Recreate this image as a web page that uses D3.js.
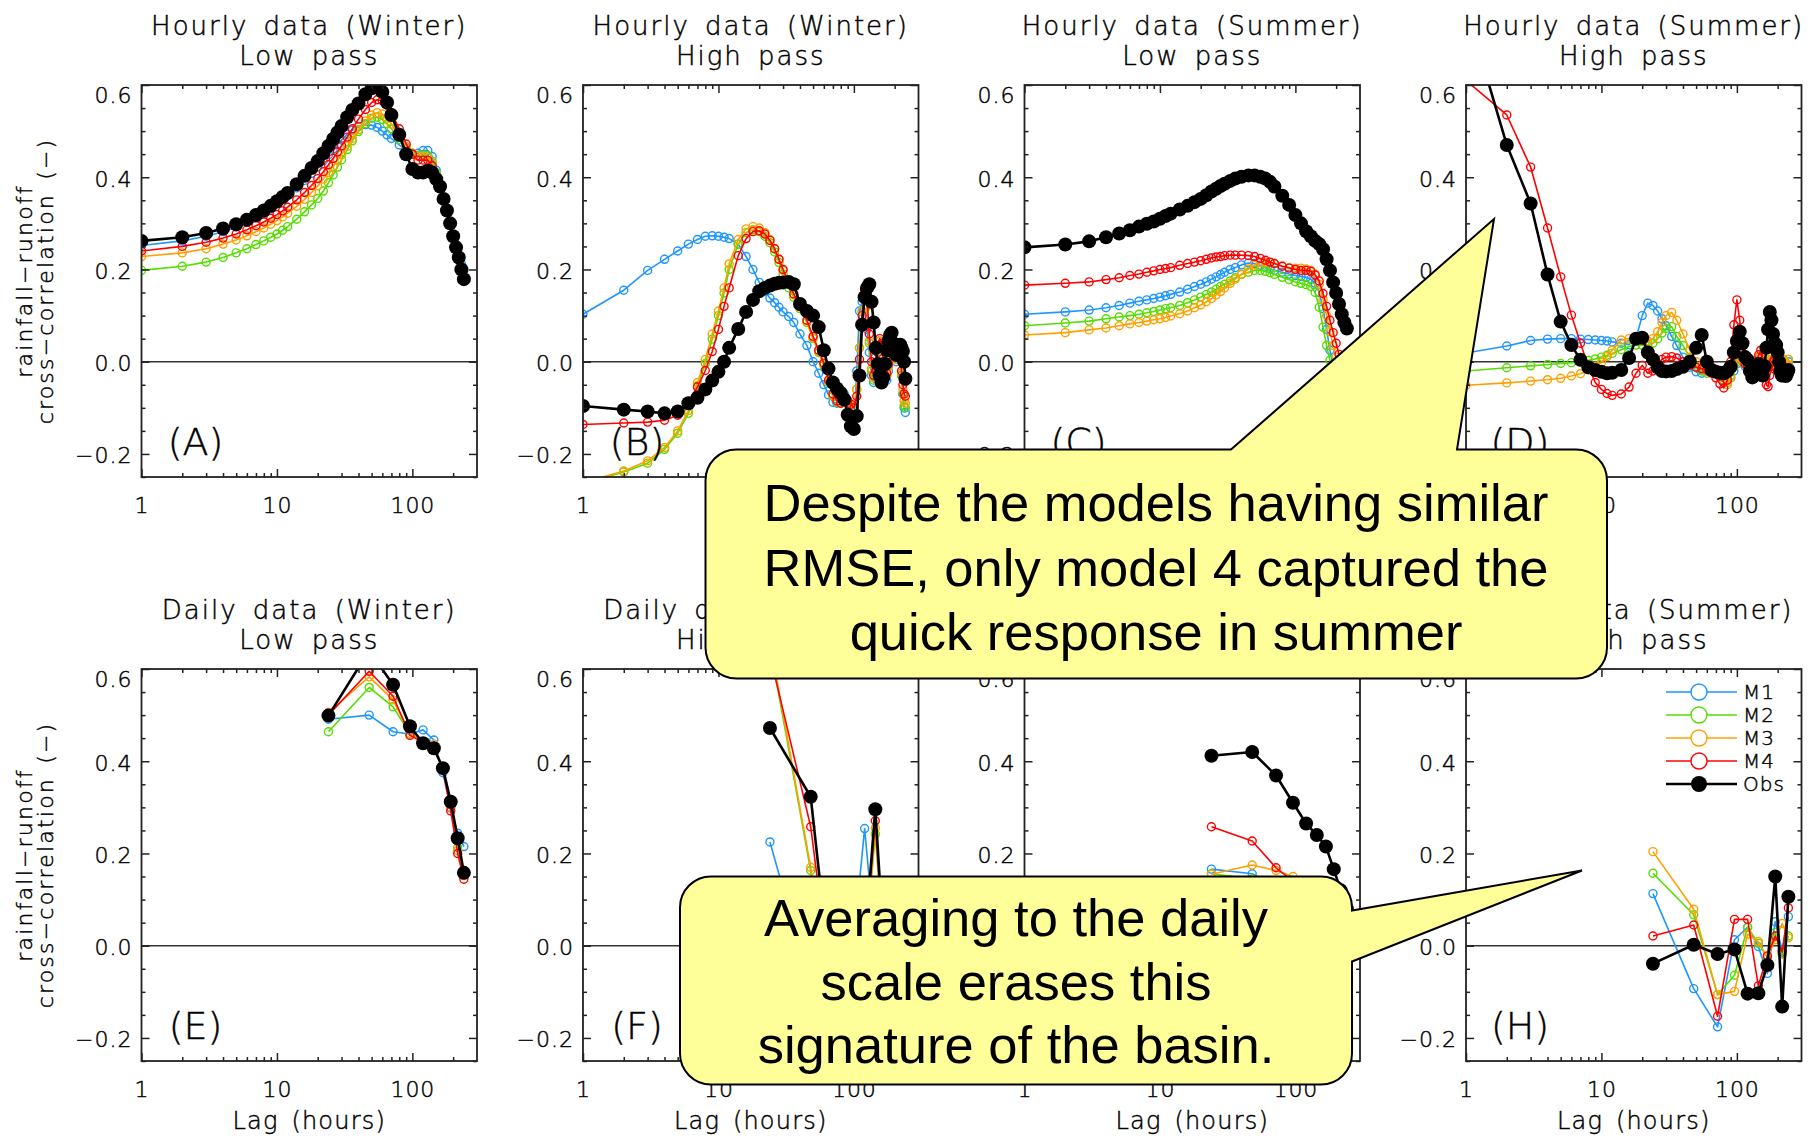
<!DOCTYPE html>
<html>
<head>
<meta charset="utf-8">
<script src="https://cdn.jsdelivr.net/npm/d3@7"></script>
<style>
  html, body { margin: 0; padding: 0; background: #fff; }
  svg { display: block; }
  .plotText { font-family: "DejaVu Sans", "Liberation Sans", sans-serif; font-weight: 200; fill: #000; stroke: #000; stroke-width: 0.45px; }
  .calloutText { font-family: "Liberation Sans", Arial, sans-serif; fill: #000; }
</style>
</head>
<body>
<svg id="chart" width="1816" height="1138"></svg>
<script>
// ---------------- data ----------------
const seriesNames = ["M1", "M2", "M3", "M4", "Obs"];
const yTickValues = [-0.2, 0.0, 0.2, 0.4, 0.6];
const xTickValues = [1, 10, 100];
const xMinorTicks = [2, 3, 4, 5, 6, 7, 8, 9, 20, 30, 40, 50, 60, 70, 80, 90, 200];
const yMinorTicks = [-0.25, -0.15, -0.1, -0.05, 0.05, 0.1, 0.15, 0.25, 0.3, 0.35, 0.45, 0.5, 0.55];

const panelTitles = ["Hourly data (Winter)", "Hourly data (Winter)", "Hourly data (Summer)", "Hourly data (Summer)",
                     "Daily data (Winter)", "Daily data (Winter)", "Daily data (Summer)", "Daily data (Summer)"];
const panelSubtitles = ["Low pass", "High pass", "Low pass", "High pass", "Low pass", "High pass", "Low pass", "High pass"];
const panelTags = ["(A)", "(B)", "(C)", "(D)", "(E)", "(F)", "(G)", "(H)"];

// lags (hours) for the low-pass hourly panels
const lagsLow = [1,2,3,4,5,6,7,8,9,10,11,12,14,16,18,20,22,24,26,28,30,33,36,40,45,50,55,60,65,70,80,90,100,
                 110,120,130,140,150,160,170,180,190,200,210,220,230,240];
// lags (hours) for the high-pass hourly panels
const lagsHigh = [1,2,3,4,5,6,7,8,9,10,11,12,14,16,18,20,22,24,26,28,30,33,36,40,45,50,55,60,65,70,75,80,85,90,95,
                  100,105,110,115,120,125,130,135,140,145,150,155,160,165,170,175,180,185,190,195,200,205,210,215,
                  220,225,230,235,240];
// lags (hours) for the daily panels
const lagsDaily = [24, 48, 72, 96, 120, 144, 168, 192, 216, 240];

// (A) hourly, winter, low pass
const hwLowM1 = [.252,.262,.272,.282,.292,.302,.312,.322,.332,.342,.351,.360,.377,.393,.408,.422,.436,.449,.461,.472,.481,
                 .493,.502,.510,.514,.513,.508,.500,.492,.484,.470,.458,.450,.452,.458,.458,.445,.415,.385,.355,.330,.302,.275,.250,.230,.212,.198];
const hwLowM2 = [.198,.207,.216,.226,.236,.245,.254,.262,.270,.277,.285,.293,.309,.325,.340,.354,.370,.388,.405,.422,.438,
                 .460,.479,.499,.516,.528,.530,.525,.516,.505,.482,.463,.452,.447,.448,.447,.435,.410,.382,.353,.328,.300,.272,.248,.226,.200,.179];
const hwLowM3 = [.228,.236,.245,.255,.264,.273,.282,.290,.298,.306,.314,.322,.337,.352,.367,.381,.396,.410,.424,.437,.449,
                 .467,.484,.503,.522,.535,.540,.537,.528,.515,.488,.466,.452,.445,.445,.443,.430,.405,.380,.352,.327,.300,.272,.248,.226,.200,.179];
const hwLowM4 = [.240,.250,.259,.268,.277,.286,.295,.303,.311,.319,.327,.335,.351,.367,.382,.397,.412,.427,.441,.455,.468,
                 .487,.505,.526,.547,.562,.568,.566,.556,.540,.505,.472,.450,.437,.437,.437,.425,.402,.378,.351,.326,.299,.271,.247,.225,.200,.178];
const hwLowObs = [.262,.270,.279,.289,.298,.308,.318,.328,.338,.348,.357,.366,.385,.403,.420,.435,.452,.468,.483,.497,.511,
                  .530,.546,.560,.580,.593,.595,.585,.562,.535,.492,.450,.418,.410,.410,.414,.410,.396,.380,.353,.328,.300,.272,.248,.226,.200,.179];

// (B) hourly, winter, high pass
const hwHighM1 = [.103,.155,.198,.222,.240,.255,.265,.272,.273,.272,.270,.267,.255,.228,.200,.172,.152,.138,.128,.118,.108,
                  .098,.085,.060,.035,0,-.025,-.050,-.072,-.088,-.090,-.080,-.070,-.085,-.120,-.140,-.020,.110,.130,.115,
                  .070,.020,-.030,-.045,-.030,0,.030,.035,0,-.030,-.040,-.020,.010,.035,.030,.010,0,.010,.020,.010,-.030,-.070,-.100,-.110];
const hwHighM2 = [-.265,-.239,-.220,-.190,-.155,-.112,-.052,-.004,.049,.100,.149,.200,.255,.280,.286,.282,.272,.258,.238,.215,.190,
                  .160,.140,.115,.085,.050,.020,-.008,-.045,-.075,-.088,-.090,-.085,-.088,-.095,-.100,-.060,.030,.110,.150,
                  .120,.040,-.020,-.040,-.020,.020,.045,.035,-.005,-.035,-.030,-.010,.020,.040,.035,.015,.005,.015,.020,.010,-.030,-.070,-.095,-.100];
const hwHighM3 = [-.262,-.237,-.215,-.186,-.150,-.106,-.045,.005,.060,.110,.160,.212,.265,.288,.293,.290,.280,.265,.245,.222,.198,
                  .168,.145,.118,.088,.052,.022,-.006,-.043,-.073,-.086,-.088,-.083,-.086,-.093,-.098,-.060,.030,.110,.150,
                  .120,.045,-.015,-.035,-.020,.020,.045,.035,-.005,-.035,-.030,-.010,.020,.040,.035,.015,.005,.015,.020,.010,-.025,-.060,-.085,-.090];
const hwHighM4 = [-.136,-.133,-.131,-.127,-.116,-.086,-.055,-.019,.022,.070,.120,.160,.230,.267,.282,.284,.277,.263,.245,.222,.200,
                  .170,.147,.120,.090,.055,.025,-.003,-.040,-.070,-.085,-.090,-.085,-.085,-.092,-.100,-.075,.005,.100,.155,
                  .135,.060,0,-.030,-.020,.020,.050,.040,0,-.030,-.025,-.005,.020,.040,.035,.020,.010,.015,.020,.010,-.020,-.050,-.070,-.075];
const hwHighObs = [-.096,-.104,-.108,-.112,-.108,-.090,-.078,-.060,-.041,-.022,0,.030,.071,.108,.134,.153,.160,.165,.169,.171,.172,
                   .173,.168,.125,.110,.100,.075,.025,-.015,-.045,-.058,-.068,-.082,-.115,-.140,-.146,-.118,-.030,.080,.140,
                   .160,.168,.130,.085,.030,-.005,-.030,-.045,-.035,-.005,.025,.045,.058,.063,.040,.020,.015,.025,.035,.037,.030,.022,0,-.037];

// (C) hourly, summer, low pass
const hsLowM1 = [.103,.108,.112,.117,.122,.127,.131,.134,.137,.140,.143,.146,.151,.157,.163,.168,.173,.179,.184,.189,.194,
                 .200,.204,.210,.214,.213,.209,.205,.201,.198,.194,.190,.187,.185,.183,.179,.170,.150,.115,.070,.025,-.010,-.035,-.050,-.060,-.070,-.075];
const hsLowM2 = [.078,.084,.088,.093,.097,.100,.103,.106,.109,.112,.115,.117,.122,.128,.134,.140,.146,.151,.157,.163,.168,
                 .175,.182,.189,.194,.198,.198,.196,.193,.189,.183,.178,.173,.170,.167,.163,.150,.118,.075,.035,.003,-.020,-.037,-.050,-.060,-.070,-.075];
const hsLowM3 = [.058,.063,.069,.073,.078,.082,.085,.088,.091,.093,.096,.099,.104,.110,.117,.123,.130,.137,.145,.152,.160,
                 .170,.179,.190,.201,.210,.215,.216,.215,.213,.207,.204,.203,.203,.201,.198,.190,.168,.135,.100,.065,.035,.010,-.010,-.025,-.040,-.050];
const hsLowM4 = [.166,.170,.173,.178,.182,.187,.190,.194,.197,.200,.202,.204,.209,.213,.216,.219,.222,.225,.227,.228,.230,
                 .231,.231,.231,.230,.228,.224,.220,.216,.213,.207,.203,.200,.198,.198,.196,.188,.175,.148,.120,.090,.063,.040,.016,-.005,-.025,-.040];
const hsLowObs = [.248,.254,.261,.270,.278,.285,.293,.299,.304,.310,.316,.321,.330,.338,.346,.353,.361,.369,.375,.381,.386,
                  .392,.397,.401,.404,.404,.401,.397,.390,.380,.360,.340,.318,.300,.283,.272,.262,.255,.244,.222,.198,.172,.149,.125,.103,.085,.072];

// (D) hourly, summer, high pass
const hsHighM1 = [.019,.034,.046,.049,.050,.050,.049,.048,.047,.046,.045,.043,.040,.037,.050,.100,.127,.122,.110,.093,.078,
                  .055,.035,.010,-.012,-.022,-.025,-.020,-.015,-.020,-.028,-.035,-.040,-.035,-.020,-.005,.005,0,-.010,-.020,
                  -.025,-.020,-.010,0,.005,0,-.010,-.020,-.015,0,.010,.005,-.005,-.010,-.005,0,-.010,-.015,-.010,0,-.005,-.010,-.005,0];
const hsHighM2 = [-.020,-.013,-.009,-.006,-.004,-.002,0,.003,.006,.010,.014,.018,.026,.033,.036,.036,.035,.040,.050,.062,.072,
                  .076,.055,.035,.010,-.010,-.020,-.025,-.020,-.025,-.030,-.040,-.045,-.030,-.010,0,.010,.005,-.005,-.015,
                  -.020,-.015,-.005,.005,.010,.005,-.005,-.015,-.010,.005,.010,.005,0,-.010,-.005,.005,-.005,-.010,-.005,.005,0,-.010,-.005,.005];
const hsHighM3 = [-.051,-.046,-.042,-.039,-.036,-.031,-.026,-.018,-.010,-.002,.011,.025,.047,.050,.048,.045,.045,.050,.065,.085,.100,
                  .107,.090,.060,.025,0,-.015,-.020,-.020,-.025,-.030,-.045,-.050,-.035,-.010,.005,.010,.005,-.005,-.015,
                  -.020,-.015,-.005,.005,.010,.005,-.005,-.015,-.010,.005,.010,.005,0,-.010,-.005,.005,-.005,-.010,-.005,.005,0,-.010,-.005,.005];
const hsHighM4 = [.610,.535,.422,.290,.184,.101,.040,-.010,-.045,-.060,-.069,-.073,-.070,-.055,-.025,-.008,-.025,-.020,-.005,.005,.010,
                  .011,.008,0,-.008,-.012,-.015,-.018,-.025,-.035,-.048,-.057,-.040,0,.080,.134,.090,.020,-.005,-.010,
                  -.015,-.020,-.010,0,.015,.025,0,-.030,-.050,-.054,-.030,-.010,0,.005,-.010,-.020,-.025,-.030,-.020,-.010,-.020,-.030,-.025,-.020];
const hsHighObs = [.770,.470,.343,.189,.087,.036,.004,-.012,-.018,-.022,-.025,-.024,-.018,.008,.050,.052,.020,.005,-.012,-.020,-.021,
                   -.020,-.016,-.011,0,.030,.058,0,-.018,-.022,-.024,-.025,-.020,-.011,.020,.045,.065,.040,.010,.004,
                   -.020,-.034,-.030,-.020,-.005,-.020,-.030,-.010,.030,.070,.108,.090,.060,.040,.036,.020,0,-.020,-.030,-.020,-.025,-.031,-.025,-.018];

// (E) daily, winter, low pass
const dwLowM1 = [.491,.500,.464,.459,.468,.446,.375,.298,.244,.215];
const dwLowM2 = [.464,.560,.518,.460,.441,.429,.383,.306,.213,.163];
const dwLowM3 = [.506,.583,.533,.459,.441,.437,.383,.300,.206,.152];
const dwLowM4 = [.500,.595,.541,.456,.441,.431,.383,.292,.200,.144];
const dwLowObs = [.499,.640,.566,.476,.439,.428,.385,.312,.233,.158];

// (F) daily, winter, high pass
const dwHighM1 = [.225,-.090,-.120,-.040,.254,0,-.040,-.020,.020,-.020];
const dwHighM2 = [.650,.163,-.160,-.080,-.020,.242,-.030,0,-.020,0];
const dwHighM3 = [.660,.170,-.160,-.080,-.020,.255,-.030,0,-.020,0];
const dwHighM4 = [.630,.258,-.150,-.070,-.010,.271,-.030,0,-.020,0];
const dwHighObs = [.472,.323,-.150,-.060,0,.296,-.020,.020,-.030,0];

// (G) daily, summer, low pass
const dsLowM1 = [.166,.156,.130,.120,.100,.085,.070,.050,.030,.010];
const dsLowM2 = [.156,.145,.120,.110,.095,.080,.065,.045,.025,.005];
const dsLowM3 = [.155,.175,.163,.150,.140,.125,.105,.085,.065,.045];
const dsLowM4 = [.258,.227,.169,.140,.120,.100,.080,.060,.040,.020];
const dsLowObs = [.412,.420,.369,.310,.265,.240,.215,.166,.120,.080];

// (H) daily, summer, high pass
const dsHighM1 = [.113,-.093,-.176,.013,.040,-.002,-.060,.052,-.010,.063];
const dsHighM2 = [.157,.067,-.106,-.064,.040,.005,-.025,.029,-.018,.021];
const dsHighM3 = [.204,.079,-.106,-.099,.025,.009,-.025,.013,.048,.017];
const dsHighM4 = [.021,.045,-.153,.057,.057,-.087,-.022,.021,-.014,.082];
const dsHighObs = [-.039,.002,-.018,-.008,-.104,-.103,-.042,.150,-.132,.106];

const calloutUpperLines = ["Despite the models having similar", "RMSE, only model 4 captured the", "quick response in summer"];
const calloutLowerLines = ["Averaging to the daily", "scale erases this", "signature of the basin."];

// ---------------- layout & style ----------------
const seriesColors = ["#1e96ff", "#55dd00", "#ffa000", "#ff0000", "#000000"];
const colLefts = [141.5, 583, 1024.5, 1466];
const rowTops = [85, 669];
const plotW = 335.5, plotH = 392;

const panels = [
  { lags: lagsLow,   series: [hwLowM1, hwLowM2, hwLowM3, hwLowM4, hwLowObs] },
  { lags: lagsHigh,  series: [hwHighM1, hwHighM2, hwHighM3, hwHighM4, hwHighObs] },
  { lags: lagsLow,   series: [hsLowM1, hsLowM2, hsLowM3, hsLowM4, hsLowObs] },
  { lags: lagsHigh,  series: [hsHighM1, hsHighM2, hsHighM3, hsHighM4, hsHighObs] },
  { lags: lagsDaily, series: [dwLowM1, dwLowM2, dwLowM3, dwLowM4, dwLowObs] },
  { lags: lagsDaily, series: [dwHighM1, dwHighM2, dwHighM3, dwHighM4, dwHighObs] },
  { lags: lagsDaily, series: [dsLowM1, dsLowM2, dsLowM3, dsLowM4, dsLowObs] },
  { lags: lagsDaily, series: [dsHighM1, dsHighM2, dsHighM3, dsHighM4, dsHighObs] }
];

const svg = d3.select("#chart");
const yFmt = d => d3.format(".1f")(d);

panels.forEach((p, i) => {
  const row = Math.floor(i / 4), col = i % 4;
  const left = colLefts[col], top = rowTops[row];
  const x = d3.scaleLog().domain([1, 300]).range([left, left + plotW]);
  const y = d3.scaleLinear().domain([-0.25, 0.6]).range([top + plotH, top]);
  const g = svg.append("g").attr("class", "panel");

  // clip region for the data
  const clipId = "clip" + i;
  g.append("clipPath").attr("id", clipId)
    .append("rect").attr("x", left).attr("y", top).attr("width", plotW).attr("height", plotH);

  // zero reference line
  g.append("line")
    .attr("x1", left).attr("x2", left + plotW)
    .attr("y1", y(0)).attr("y2", y(0))
    .attr("stroke", "#333").attr("stroke-width", 1.5);

  // series: models first, observations on top
  const data = g.append("g").attr("clip-path", `url(#${clipId})`);
  p.series.forEach((vals, s) => {
    const pts = p.lags.map((lag, k) => ({ lag, v: vals[k] }));
    const isObs = s === 4;
    const line = d3.line().x(d => x(d.lag)).y(d => y(d.v));
    data.append("path").datum(pts)
      .attr("d", line)
      .attr("fill", "none")
      .attr("stroke", seriesColors[s])
      .attr("stroke-width", isObs ? 2.6 : 1.6)
      .attr("stroke-linejoin", "round");
    data.append("g").selectAll("circle").data(pts).join("circle")
      .attr("cx", d => x(d.lag)).attr("cy", d => y(d.v))
      .attr("r", isObs ? 7 : 4)
      .attr("fill", isObs ? "#000" : "none")
      .attr("stroke", seriesColors[s])
      .attr("stroke-width", isObs ? 0 : 1.4);
  });

  // frame
  g.append("rect")
    .attr("x", left).attr("y", top).attr("width", plotW).attr("height", plotH)
    .attr("fill", "none").attr("stroke", "#222").attr("stroke-width", 1.8);

  // axes: inward ticks on all four sides
  const styleAxis = sel => {
    sel.select(".domain").remove();
    sel.selectAll(".tick line").attr("stroke", "#222").attr("stroke-width", 1.5);
  };
  const yLeft = g.append("g").attr("transform", `translate(${left},0)`)
    .call(d3.axisLeft(y).tickValues(yTickValues).tickSize(-8).tickPadding(9).tickFormat(yFmt));
  styleAxis(yLeft);
  yLeft.selectAll(".tick text")
    .attr("class", "plotText").attr("font-size", 22).attr("letter-spacing", 1)
    .attr("dy", d => (d === 0.6 ? 17 : 9)).attr("fill", "#000");
  g.append("g").attr("transform", `translate(${left},0)`)
    .call(d3.axisLeft(y).tickValues(yMinorTicks).tickSize(-4).tickFormat("")).call(styleAxis);
  g.append("g").attr("transform", `translate(${left + plotW},0)`)
    .call(d3.axisRight(y).tickValues(yTickValues).tickSize(-8).tickFormat("")).call(styleAxis);
  g.append("g").attr("transform", `translate(${left + plotW},0)`)
    .call(d3.axisRight(y).tickValues(yMinorTicks).tickSize(-4).tickFormat("")).call(styleAxis);

  const xBottom = g.append("g").attr("transform", `translate(0,${top + plotH})`)
    .call(d3.axisBottom(x).tickValues(xTickValues).tickSize(-8).tickPadding(20).tickFormat(d => String(d)));
  styleAxis(xBottom);
  xBottom.selectAll(".tick text")
    .attr("class", "plotText").attr("font-size", 22).attr("letter-spacing", 1).attr("fill", "#000");
  g.append("g").attr("transform", `translate(0,${top + plotH})`)
    .call(d3.axisBottom(x).tickValues(xMinorTicks).tickSize(-4).tickFormat("")).call(styleAxis);
  g.append("g").attr("transform", `translate(0,${top})`)
    .call(d3.axisTop(x).tickValues(xTickValues).tickSize(-8).tickFormat("")).call(styleAxis);
  g.append("g").attr("transform", `translate(0,${top})`)
    .call(d3.axisTop(x).tickValues(xMinorTicks).tickSize(-4).tickFormat("")).call(styleAxis);

  // titles
  const cx = left + plotW / 2;
  g.append("text").attr("class", "plotText")
    .attr("x", cx).attr("y", top - 50.5).attr("text-anchor", "middle")
    .attr("font-size", 26).attr("letter-spacing", 2).attr("word-spacing", 5)
    .text(panelTitles[i]);
  g.append("text").attr("class", "plotText")
    .attr("x", cx).attr("y", top - 20.5).attr("text-anchor", "middle")
    .attr("font-size", 26).attr("letter-spacing", 2).attr("word-spacing", 5)
    .text(panelSubtitles[i]);

  // panel tag
  g.append("text").attr("class", "plotText")
    .attr("x", left + 54).attr("y", top + plotH - 22).attr("text-anchor", "middle")
    .attr("font-size", 38)
    .text(panelTags[i]);

  // x-axis title on the lower row
  if (row === 1) {
    g.append("text").attr("class", "plotText")
      .attr("x", cx).attr("y", 1129).attr("text-anchor", "middle")
      .attr("font-size", 24).attr("letter-spacing", 1.2).attr("word-spacing", 4)
      .text("Lag (hours)");
  }
  // y-axis title on the first column
  if (col === 0) {
    const cy = top + plotH / 2;
    [["rainfall\u2212runoff", 32], ["cross\u2212correlation (\u2212)", 53]].forEach(([t, bx]) => {
      g.append("text").attr("class", "plotText")
        .attr("transform", `translate(${bx},${cy}) rotate(-90)`)
        .attr("text-anchor", "middle").attr("font-size", 22)
        .attr("letter-spacing", 2.2).attr("word-spacing", 4)
        .text(t);
    });
  }

  // legend inside the last panel
  if (i === 7) {
    const lg = g.append("g");
    seriesNames.forEach((name, s) => {
      const ly = 692 + s * 23;
      lg.append("line").attr("x1", 1666).attr("x2", 1737).attr("y1", ly).attr("y2", ly)
        .attr("stroke", seriesColors[s]).attr("stroke-width", s === 4 ? 2.6 : 1.6);
      lg.append("circle").attr("cx", 1699).attr("cy", ly).attr("r", 8)
        .attr("fill", s === 4 ? "#000" : "#fff").attr("stroke", seriesColors[s])
        .attr("stroke-width", s === 4 ? 0 : 1.4);
      lg.append("text").attr("class", "plotText")
        .attr("x", 1743).attr("y", ly + 7).attr("font-size", 20).attr("letter-spacing", 1)
        .text(name);
    });
  }
});

// ---------------- callouts ----------------
function bubbleTopPointer(x0, y0, x1, y1, r, b1, b2, tx, ty) {
  const p = d3.path();
  p.moveTo(x0 + r, y0);
  p.lineTo(b1, y0); p.lineTo(tx, ty); p.lineTo(b2, y0);
  p.lineTo(x1 - r, y0);
  p.arcTo(x1, y0, x1, y0 + r, r);
  p.lineTo(x1, y1 - r);
  p.arcTo(x1, y1, x1 - r, y1, r);
  p.lineTo(x0 + r, y1);
  p.arcTo(x0, y1, x0, y1 - r, r);
  p.lineTo(x0, y0 + r);
  p.arcTo(x0, y0, x0 + r, y0, r);
  p.closePath();
  return p.toString();
}
function bubbleRightPointer(x0, y0, x1, y1, r, b1, b2, tx, ty) {
  const p = d3.path();
  p.moveTo(x0 + r, y0);
  p.lineTo(x1 - r, y0);
  p.arcTo(x1, y0, x1, y0 + r, r);
  p.lineTo(x1, b1); p.lineTo(tx, ty); p.lineTo(x1, b2);
  p.lineTo(x1, y1 - r);
  p.arcTo(x1, y1, x1 - r, y1, r);
  p.lineTo(x0 + r, y1);
  p.arcTo(x0, y1, x0, y1 - r, r);
  p.lineTo(x0, y0 + r);
  p.arcTo(x0, y0, x0 + r, y0, r);
  p.closePath();
  return p.toString();
}

const notes = svg.append("g").attr("class", "callouts");
notes.append("path")
  .attr("d", bubbleTopPointer(705.5, 449.5, 1607, 678.5, 31, 1231, 1457, 1494, 219))
  .attr("fill", "#ffff99").attr("stroke", "#000").attr("stroke-width", 2);
calloutUpperLines.forEach((t, k) => {
  notes.append("text").attr("class", "calloutText")
    .attr("x", 1156).attr("y", 521 + k * 64.5).attr("text-anchor", "middle")
    .attr("font-size", 52.5).text(t);
});

notes.append("path")
  .attr("d", bubbleRightPointer(680, 876.5, 1352, 1084.5, 31, 910.5, 961.5, 1582, 870.5))
  .attr("fill", "#ffff99").attr("stroke", "#000").attr("stroke-width", 2);
calloutLowerLines.forEach((t, k) => {
  notes.append("text").attr("class", "calloutText")
    .attr("x", 1016).attr("y", 936 + k * 63.5).attr("text-anchor", "middle")
    .attr("font-size", 52.5).text(t);
});
</script>
</body>
</html>
